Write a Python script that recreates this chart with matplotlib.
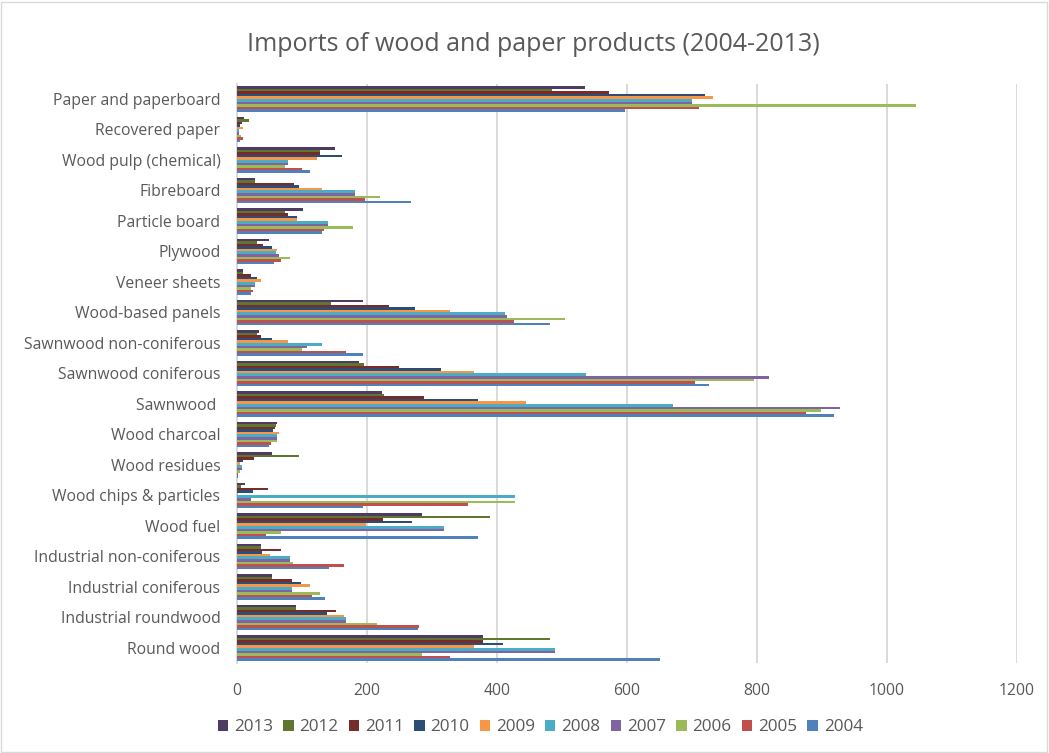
import matplotlib
matplotlib.use('Agg')
import matplotlib.pyplot as plt
import numpy as np
from matplotlib.patches import Rectangle

categories = ['Paper and paperboard', 'Recovered paper', 'Wood pulp (chemical)', 'Fibreboard',
              'Particle board', 'Plywood', 'Veneer sheets', 'Wood-based panels',
              'Sawnwood non-coniferous', 'Sawnwood coniferous', 'Sawnwood ', 'Wood charcoal',
              'Wood residues', 'Wood chips & particles', 'Wood fuel', 'Industrial non-coniferous',
              'Industrial coniferous', 'Industrial roundwood', 'Round wood']

years = ['2013', '2012', '2011', '2010', '2009', '2008', '2007', '2006', '2005', '2004']

# one list per year, categories in the order above (top to bottom)
v2013 = [536, 11, 151, 27, 101, 49, 9, 193, 34, 187, 223, 61, 54, 12, 285, 37, 54, 91, 378]
v2012 = [485, 18, 128, 27, 74, 31, 9, 145, 30, 195, 226, 60, 96, 6, 389, 37, 54, 91, 482]
v2011 = [572, 8, 127, 88, 78, 40, 22, 234, 37, 249, 288, 58, 26, 48, 225, 67, 85, 152, 379]
v2010 = [720, 5, 161, 96, 92, 54, 30, 273, 54, 313, 370, 55, 9, 24, 269, 39, 98, 139, 409]
v2009 = [732, 9, 123, 131, 92, 61, 37, 327, 79, 365, 445, 64, 5, 2, 199, 51, 112, 164, 365]
v2008 = [700, 3, 79, 181, 140, 60, 27, 412, 131, 537, 670, 61, 8, 428, 319, 82, 85, 168, 489]
v2007 = [700, 3, 79, 181, 140, 64, 27, 416, 107, 819, 928, 61, 8, 22, 319, 82, 85, 168, 489]
v2006 = [1045, 6, 74, 220, 179, 81, 22, 505, 100, 796, 899, 61, 5, 428, 68, 86, 127, 215, 284]
v2005 = [710, 9, 100, 197, 133, 67, 25, 426, 168, 705, 875, 52, 2, 356, 45, 164, 116, 280, 327]
v2004 = [597, 5, 112, 267, 131, 57, 21, 481, 193, 726, 918, 49, 1, 193, 370, 142, 136, 279, 650]

series = [v2013, v2012, v2011, v2010, v2009, v2008, v2007, v2006, v2005, v2004]
colors = ['#4D3B62', '#5F7530', '#772C2A', '#2C4D75', '#F79646',
          '#4BACC6', '#8064A2', '#9BBB59', '#C0504D', '#4F81BD']

plt.rcParams['font.family'] = ['Open Sans', 'DejaVu Sans']

fig = plt.figure(figsize=(10.49, 7.53), dpi=100)
ax = fig.add_axes([0.226, 0.1192, 0.7435, 0.7696])

y = np.arange(len(categories))
h = 0.085
for i, vals in enumerate(series):
    ax.barh(y + (i - 4.5) * h, vals, height=h, color=colors[i], label=years[i], zorder=3)

ax.set_ylim(len(categories) - 0.5, -0.5)
ax.set_xlim(0, 1200)
ax.set_xticks(np.arange(0, 1201, 200))
ax.set_yticks(y)
ax.set_yticklabels(categories)
ax.tick_params(axis='both', length=0, colors='#595959', labelsize=11.3)
ax.tick_params(axis='y', pad=12)
ax.tick_params(axis='x', pad=14)
ax.grid(axis='x', color='#d9d9d9', linewidth=1.4, zorder=0)
for s in ['top', 'right', 'bottom']:
    ax.spines[s].set_visible(False)
ax.spines['left'].set_color('#d9d9d9')
ax.spines['left'].set_linewidth(1.4)

fig.suptitle('Imports of wood and paper products (2004-2013)', x=0.508, y=0.958,
             fontsize=18, color='#595959')

fig.legend(loc='center', bbox_to_anchor=(0.515, 0.034), ncol=10, frameon=False,
           fontsize=12.3, labelcolor='#595959', handlelength=0.6, handleheight=0.6,
           handletextpad=0.35, columnspacing=0.6)

fig.patches.append(Rectangle((0.001, 0.001), 0.997, 0.997, transform=fig.transFigure,
                             fill=False, edgecolor='#d9d9d9', linewidth=1))

fig.savefig('out.png', dpi=100)
